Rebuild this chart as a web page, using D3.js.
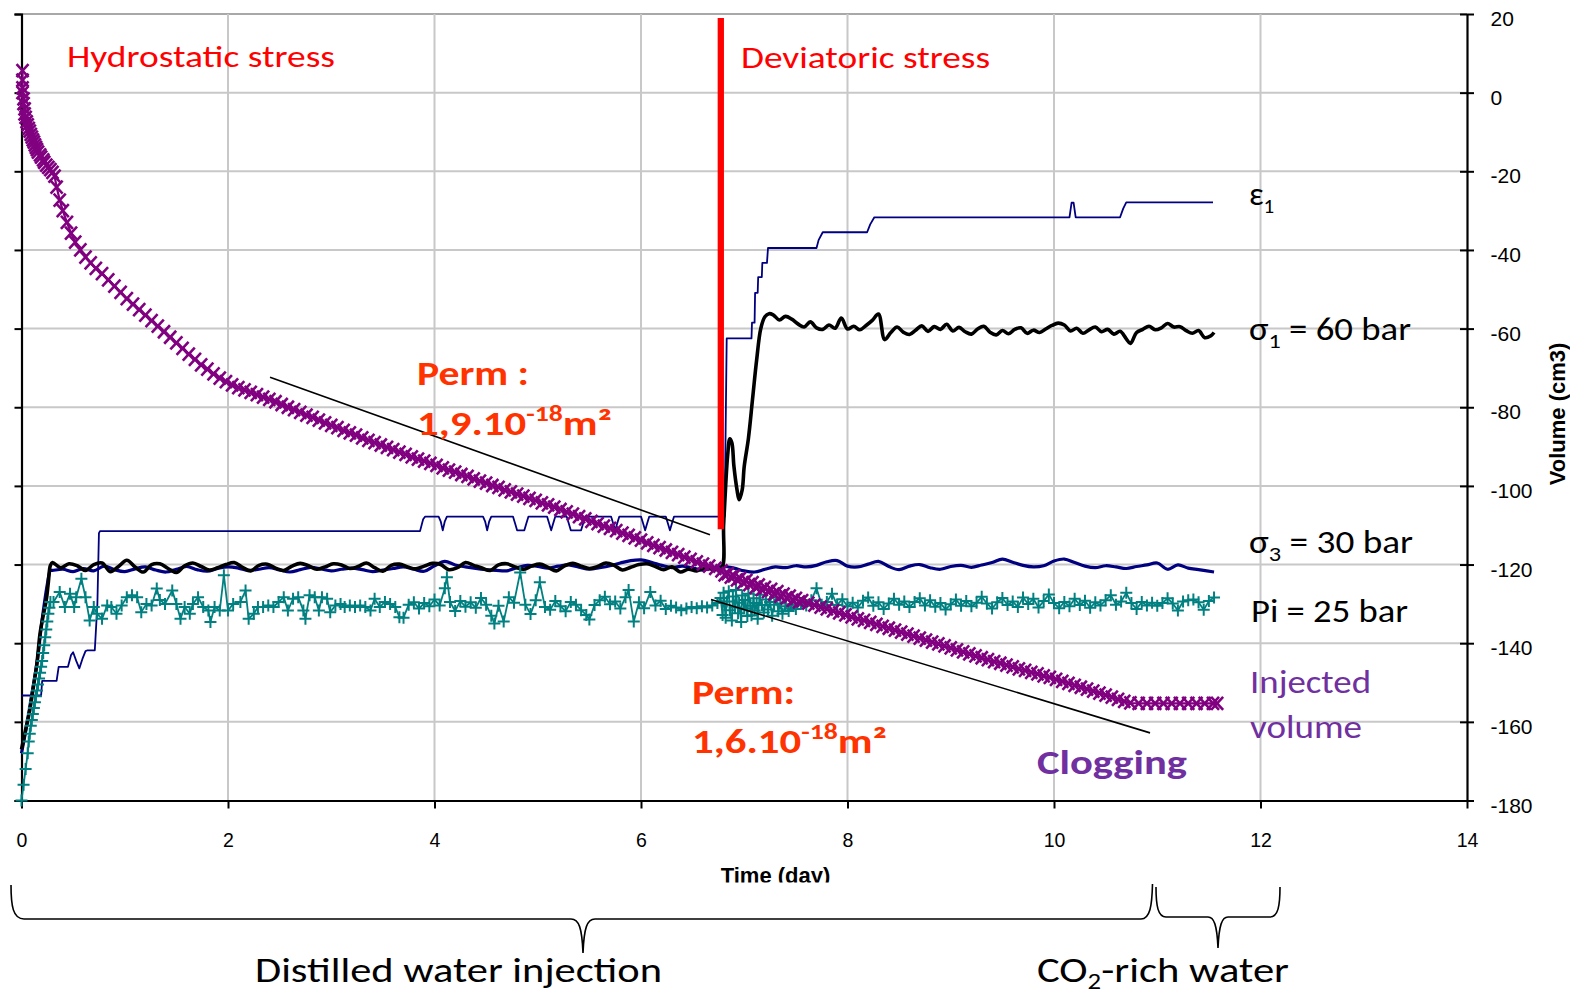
<!DOCTYPE html>
<html>
<head>
<meta charset="utf-8">
<script src="https://cdn.jsdelivr.net/npm/d3@7/dist/d3.min.js"></script>
<style>
  html, body { margin: 0; padding: 0; background: #fff; }
  svg { display: block; }
</style>
</head>
<body>
<svg id="chart" width="1570" height="995"></svg>
<script>
// ---- Data: time (day) and value on the volume scale (cm3) ----
const xTicks = [0, 2, 4, 6, 8, 10, 12, 14];
const yTicks = [20, 0, -20, -40, -60, -80, -100, -120, -140, -160, -180];

// Injected volume
const injectedVolume = [
  [0.01,5.6],[0.01,3.2],[0.01,1.2],[0.01,0],[0.02,-1.6],[0.02,-2.8],[0.03,-4.1],[0.03,-5.4],[0.04,-6.3],[0.05,-7.4],
  [0.06,-8.2],[0.07,-9.1],[0.08,-9.8],[0.09,-10.6],[0.10,-11.3],[0.11,-12],[0.12,-12.6],[0.13,-13.3],[0.14,-13.9],[0.15,-14.5],
  [0.16,-15.1],[0.18,-15.8],[0.19,-16.4],[0.21,-17.1],[0.22,-17.7],[0.24,-18.4],[0.26,-19],[0.28,-19.6],[0.30,-20.3],[0.32,-21.2],
  [0.34,-24],[0.37,-27.3],[0.40,-30],[0.44,-33],[0.48,-35.7],[0.52,-38],[0.57,-40],[0.62,-41.8],[0.67,-43.3],[0.72,-44.7],
  [0.78,-46],[0.84,-47.6],[0.90,-49.2],[0.96,-50.8],[1.02,-52.4],[1.08,-53.8],[1.14,-55.2],[1.20,-56.6],[1.26,-58],[1.32,-59.4],
  [1.38,-60.8],[1.44,-62.2],[1.50,-63.6],[1.56,-65],[1.62,-66.5],[1.68,-67.8],[1.74,-69.2],[1.80,-70.3],[1.86,-71.5],[1.92,-72.6],
  [1.98,-73.5],[2.04,-74.3],[2.10,-75],[2.16,-75.6],[2.22,-76.2],[2.28,-76.8],[2.34,-77.4],[2.40,-78],[2.46,-78.6],[2.52,-79.3],
  [2.58,-80],[2.64,-80.6],[2.70,-81.3],[2.76,-82],[2.82,-82.6],[2.88,-83.3],[2.94,-84],[3.00,-84.6],[3.06,-85.2],[3.12,-85.9],
  [3.18,-86.5],[3.24,-87.1],[3.30,-87.8],[3.36,-88.4],[3.42,-89],[3.48,-89.6],[3.54,-90.2],[3.60,-90.8],[3.66,-91.4],[3.72,-92],
  [3.78,-92.6],[3.84,-93.2],[3.90,-93.7],[3.96,-94.3],[4.02,-94.8],[4.08,-95.4],[4.14,-96],[4.20,-96.5],[4.26,-97.1],[4.32,-97.6],
  [4.38,-98.2],[4.44,-98.8],[4.50,-99.3],[4.56,-99.9],[4.62,-100.4],[4.68,-101],[4.74,-101.5],[4.80,-102.1],[4.86,-102.6],[4.92,-103.2],
  [4.98,-103.7],[5.04,-104.3],[5.10,-104.8],[5.16,-105.4],[5.22,-106],[5.28,-106.6],[5.34,-107.2],[5.40,-107.8],[5.46,-108.4],[5.52,-109],
  [5.58,-109.6],[5.64,-110.2],[5.70,-110.8],[5.76,-111.4],[5.82,-112],[5.88,-112.6],[5.94,-113.2],[6.00,-113.8],[6.06,-114.5],[6.12,-115.1],
  [6.18,-115.7],[6.24,-116.3],[6.30,-116.9],[6.36,-117.5],[6.42,-118.1],[6.48,-118.7],[6.54,-119.3],[6.60,-119.9],[6.66,-120.4],[6.72,-121],
  [6.78,-121.6],[6.81,-122.6],[6.84,-122.3],[6.87,-123.2],[6.90,-122.9],[6.93,-123.9],[6.96,-123.5],[6.99,-124.6],[7.02,-124],[7.05,-125.1],
  [7.08,-124.6],[7.11,-125.8],[7.14,-125.2],[7.17,-126.4],[7.20,-125.8],[7.23,-126.9],[7.26,-126.3],[7.29,-127.5],[7.32,-126.9],[7.35,-128],
  [7.38,-127.5],[7.41,-128.5],[7.44,-128],[7.47,-129.1],[7.50,-128.6],[7.53,-129.5],[7.56,-129.2],
  [7.62,-129.8],[7.68,-130.3],[7.74,-130.8],[7.80,-131.3],[7.86,-131.8],[7.92,-132.3],
  [7.98,-132.8],[8.04,-133.3],[8.10,-133.8],[8.16,-134.2],[8.22,-134.7],[8.28,-135.2],[8.34,-135.7],[8.40,-136.2],[8.46,-136.7],[8.52,-137.2],
  [8.58,-137.7],[8.64,-138.2],[8.70,-138.7],[8.76,-139.2],[8.82,-139.7],[8.88,-140.2],[8.94,-140.7],[9.00,-141.2],[9.06,-141.7],[9.12,-142.2],
  [9.18,-142.7],[9.24,-143.2],[9.30,-143.7],[9.36,-144.2],[9.42,-144.7],[9.48,-145.1],[9.54,-145.6],[9.60,-146],[9.66,-146.5],[9.72,-146.9],
  [9.78,-147.4],[9.84,-147.8],[9.90,-148.3],[9.96,-148.7],[10.02,-149.2],[10.08,-149.7],[10.14,-150.2],[10.20,-150.7],[10.26,-151.2],[10.32,-151.7],
  [10.38,-152.2],[10.44,-152.7],[10.50,-153.2],[10.56,-153.7],[10.62,-154.3],[10.68,-154.8],[10.74,-155.2],[10.82,-155.3],[10.90,-155.3],[10.98,-155.3],
  [11.06,-155.3],[11.14,-155.3],[11.22,-155.3],[11.30,-155.3],[11.38,-155.3],[11.46,-155.3],[11.54,-155.3],[11.58,-155.3]
];

// Axial stress sigma1
const sigma1 = [
  [0,-167],[0.04,-162],[0.08,-157],[0.11,-152],[0.15,-145],[0.18,-137.5],[0.21,-133],[0.24,-129],[0.26,-124.5],[0.28,-120.2],
  [0.30,-119.5],[0.38,-120.8],[0.46,-119.8],[0.54,-120.3],[0.62,-121.5],[0.70,-120],[0.78,-119.6],[0.86,-121.8],[0.94,-120.5],[1.02,-118.9],
  [1.10,-120.6],[1.18,-121.9],[1.26,-120],[1.34,-119.8],[1.42,-121],[1.50,-122],[1.58,-120.3],[1.66,-119.6],[1.74,-120.5],[1.82,-121.4],
  [1.90,-120.8],[1.98,-120],[2.06,-119.5],[2.14,-120.7],[2.22,-121.6],[2.30,-120.2],[2.38,-119.9],[2.46,-120.9],[2.54,-121.5],[2.62,-120.4],
  [2.70,-119.7],[2.78,-120.3],[2.86,-121.2],[2.94,-120.6],[3.02,-119.8],[3.10,-120.1],[3.18,-121],[3.26,-120.5],[3.34,-119.6],[3.42,-120.8],
  [3.50,-121.7],[3.58,-120.2],[3.66,-119.9],[3.74,-120.6],[3.82,-121.1],[3.90,-120.4],[3.98,-119.7],[4.06,-120],[4.14,-121.3],[4.22,-120.8],
  [4.30,-119.5],[4.38,-120.2],[4.46,-120.9],[4.54,-121.5],[4.62,-120.1],[4.70,-119.8],[4.78,-120.6],[4.86,-121.2],[4.94,-120.4],[5.02,-119.9],
  [5.10,-120.7],[5.18,-121.6],[5.26,-120.3],[5.34,-119.7],[5.42,-120.4],[5.50,-121],[5.58,-120.5],[5.66,-119.6],[5.74,-120.2],[5.82,-121.4],
  [5.90,-120.7],[5.98,-120],[6.06,-119.8],[6.14,-120.5],[6.22,-121.3],[6.30,-120.6],[6.38,-121.9],[6.46,-121.2],[6.54,-121.6],[6.62,-120.8],
  [6.70,-121.2],[6.78,-120.9],[6.80,-110],[6.82,-100],[6.84,-92],[6.86,-88],[6.88,-89],[6.90,-95],[6.93,-101],[6.95,-103.5],
  [6.98,-101],[7.00,-95],[7.04,-88],[7.08,-78],[7.12,-68],[7.16,-60],[7.20,-57],[7.24,-56.2],
  [7.28,-56.5],[7.34,-57.8],[7.40,-56.9],[7.46,-57.6],[7.52,-58.8],[7.58,-59.6],[7.64,-58.3],[7.70,-59.8],[7.76,-60.2],[7.82,-59.1],
  [7.88,-59.9],[7.94,-57.3],[8.00,-60.1],[8.06,-59.4],[8.12,-60.3],[8.18,-59.2],[8.24,-57.9],[8.30,-56.3],[8.36,-62.8],[8.42,-61],
  [8.48,-59.6],[8.54,-60.9],[8.60,-61.5],[8.66,-60.4],[8.72,-59.3],[8.78,-60.7],[8.84,-59.5],[8.90,-60.2],[8.96,-58.9],[9.02,-60.6],
  [9.08,-59.7],[9.14,-60.8],[9.20,-61.4],[9.26,-60.1],[9.32,-59.4],[9.38,-60.9],[9.44,-61.6],[9.50,-60.5],[9.56,-61.3],[9.62,-60.2],
  [9.68,-59.8],[9.74,-61.2],[9.80,-60.4],[9.86,-61],[9.92,-60.1],[9.98,-59.2],[10.04,-58.6],[10.10,-59.1],[10.16,-60.6],[10.22,-59.9],
  [10.28,-61.2],[10.34,-60.3],[10.40,-59.6],[10.46,-60.8],[10.52,-60.2],[10.58,-61.4],[10.64,-60.7],[10.70,-62.6],[10.74,-63.8],[10.80,-61],
  [10.86,-60.2],[10.92,-59.4],[10.98,-60.3],[11.04,-59.8],[11.10,-58.7],[11.16,-59.6],[11.22,-59.5],[11.28,-60.5],[11.34,-61.2],[11.40,-60.5],
  [11.46,-62.3],[11.52,-61.8],[11.55,-61]
];

// Confining stress sigma3
const sigma3 = [
  [0,-168],[0.05,-161],[0.10,-153],[0.15,-145],[0.20,-134],[0.25,-125],[0.28,-121.5],
  [0.3,-121.5],[0.4,-121.2],[0.5,-121.8],[0.6,-121],[0.7,-121.6],[0.8,-120.4],[0.9,-121.3],[1.0,-121.8],[1.1,-121.1],[1.2,-120.6],
  [1.3,-121.4],[1.4,-121.9],[1.5,-121.2],[1.6,-120.5],[1.7,-121.3],[1.8,-121.7],[1.9,-121],[2.0,-120.6],[2.1,-120.9],[2.2,-121.5],
  [2.3,-121.2],[2.4,-120.8],[2.5,-121.4],[2.6,-121.9],[2.7,-121.3],[2.8,-120.7],[2.9,-121.1],[3.0,-121.6],[3.1,-121.2],[3.2,-120.9],
  [3.3,-121.3],[3.4,-121.8],[3.5,-121.4],[3.6,-121],[3.7,-120.6],[3.8,-121.2],[3.9,-121.7],[4.0,-120.3],[4.1,-119.2],[4.2,-120.1],
  [4.3,-120.6],[4.4,-121],[4.5,-121.3],[4.6,-121.5],[4.7,-121.6],[4.8,-120.8],[4.9,-120.2],[5.0,-120.5],[5.1,-120.9],[5.2,-120.4],
  [5.3,-120.1],[5.4,-120.7],[5.5,-121.2],[5.6,-120.8],[5.7,-120.3],[5.8,-119.6],[5.9,-119],[6.0,-118.8],[6.1,-119.4],[6.2,-120.2],
  [6.3,-120.8],[6.4,-120.4],[6.5,-120.9],[6.6,-121.4],[6.7,-120.8],[6.8,-120.5],[6.9,-120.9],[7.0,-121.6],[7.1,-121.9],[7.2,-121.2],
  [7.3,-120.6],[7.4,-120.8],[7.5,-120.3],[7.6,-120.6],[7.7,-120.2],[7.8,-119.3],[7.9,-119],[8.0,-120.4],[8.1,-120.6],[8.2,-119.9],
  [8.3,-119.2],[8.4,-120.5],[8.5,-121.3],[8.6,-120.4],[8.7,-120],[8.8,-120.8],[8.9,-121.2],[9.0,-120.5],[9.1,-120.2],[9.2,-120.7],
  [9.3,-120.1],[9.4,-119.5],[9.5,-118.6],[9.6,-119.4],[9.7,-120.2],[9.8,-120.6],[9.9,-120.3],[10.0,-119.1],[10.1,-118.6],[10.2,-119.5],
  [10.3,-120.4],[10.4,-120.8],[10.5,-120.3],[10.6,-120.6],[10.7,-121],[10.8,-120.5],[10.9,-120.1],[11.0,-119.6],[11.1,-121.2],[11.2,-120.1],
  [11.3,-120.9],[11.4,-121.3],[11.55,-121.9]
];

// Axial strain epsilon1 (stepped signal)
const epsilon1 = [
  [0.00,-153.3],[0.19,-153.3],[0.20,-149.6],[0.34,-149.6],[0.36,-146],[0.45,-146],[0.48,-143],[0.50,-142.3],[0.53,-144.5],[0.56,-146.4],
  [0.59,-144],[0.62,-142],[0.64,-141.8],[0.71,-141.8],[0.735,-130],[0.75,-112],[0.76,-111.5],
  [3.86,-111.5],[3.89,-108.5],[3.91,-107.8],[4.04,-107.8],[4.06,-109],[4.08,-111.3],[4.10,-109],[4.12,-107.8],
  [4.47,-107.8],[4.49,-109],[4.51,-111.3],[4.53,-109],[4.55,-107.8],
  [4.76,-107.8],[4.78,-109.5],[4.80,-111.3],[4.87,-111.3],[4.89,-109.5],[4.91,-107.8],
  [5.09,-107.8],[5.11,-109.5],[5.13,-111.3],[5.15,-109.5],[5.17,-107.8],
  [5.28,-107.8],[5.30,-109.5],[5.32,-111.3],[5.42,-111.3],[5.44,-109.5],[5.46,-107.8],
  [5.71,-107.8],[5.73,-109.5],[5.75,-111.3],[5.77,-109.5],[5.79,-107.8],
  [6.00,-107.8],[6.02,-109.5],[6.04,-111.3],[6.06,-109.5],[6.08,-107.8],
  [6.24,-107.8],[6.26,-109.5],[6.28,-111.3],[6.30,-109.5],[6.32,-107.8],
  [6.81,-107.8],[6.82,-85],[6.83,-62.5],[7.07,-62.5],[7.075,-58.5],[7.10,-58.5],[7.105,-50.9],[7.13,-50.9],[7.135,-46.9],[7.17,-46.9],
  [7.175,-43.3],[7.22,-43.3],[7.23,-39.5],[7.70,-39.5],[7.72,-37.5],[7.76,-35.5],[8.19,-35.5],[8.22,-33.5],[8.26,-31.7],[10.15,-31.7],
  [10.17,-28],[10.19,-28],[10.21,-31.7],[10.64,-31.7],[10.67,-29.5],[10.70,-27.9],[11.54,-27.9]
];

// Injection pressure Pi
const pressurePi = [
  [0.00,-180],[0.02,-176],[0.04,-172],[0.06,-168],[0.07,-165],[0.08,-163],[0.09,-161],[0.10,-159.5],[0.11,-158],[0.12,-156.5],
  [0.13,-155],[0.14,-153.5],[0.15,-152],[0.16,-150.5],[0.17,-149],[0.18,-147.5],[0.19,-146],[0.20,-144.5],[0.21,-142.5],[0.22,-140.5],
  [0.23,-138.5],[0.24,-136.5],[0.25,-134.5],[0.26,-132.5],[0.27,-131],[0.28,-129.5],
  [0.31,-129.5],[0.37,-127],[0.42,-130.8],[0.47,-127.4],[0.51,-130.8],[0.53,-128.3],[0.58,-123.6],[0.62,-128.3],[0.66,-134.2],[0.70,-130.8],
  [0.73,-132.5],[0.78,-133.8],[0.83,-130.4],[0.87,-130.8],[0.92,-132.5],[0.97,-130.4],[1.02,-128.3],[1.07,-127.8],[1.12,-128.3],[1.16,-132.1],
  [1.21,-130],[1.26,-130.4],[1.31,-126.1],[1.34,-129],[1.39,-130],[1.46,-126.6],[1.50,-130],[1.54,-133.8],[1.58,-130.8],[1.63,-132.5],
  [1.66,-130],[1.71,-128.3],[1.76,-130.8],[1.81,-131.7],[1.83,-134.6],[1.87,-130.8],[1.92,-131.7],[1.96,-122.7],[2.00,-131.7],[2.05,-130],
  [2.12,-129.5],[2.17,-126.6],[2.20,-133.8],[2.25,-132.5],[2.29,-130.8],[2.34,-130.8],[2.39,-130.4],[2.44,-130.8],[2.49,-129.5],[2.54,-128.3],
  [2.58,-131.7],[2.63,-128.7],[2.68,-128.3],[2.73,-131.7],[2.75,-133.8],[2.79,-127.8],[2.84,-128.3],[2.88,-131.7],[2.91,-128.3],[2.96,-128.7],
  [2.99,-132.1],[3.04,-130.4],[3.09,-130],[3.13,-130.8],[3.18,-130.4],[3.23,-130.8],[3.28,-130.4],[3.33,-130.8],[3.38,-131.7],[3.42,-128.7],
  [3.47,-130.8],[3.52,-129.5],[3.57,-130],[3.62,-130.8],[3.66,-133.4],
  [3.70,-133.5],[3.75,-130.2],[3.80,-129.6],[3.85,-131.2],[3.90,-129.8],[3.95,-130.6],[4.00,-128.9],[4.05,-130.4],[4.10,-126],[4.12,-123.2],
  [4.15,-129.5],[4.20,-131.8],[4.25,-129.3],[4.30,-130.7],[4.35,-129.6],[4.40,-131],[4.45,-128.5],[4.50,-130.2],[4.55,-133],[4.58,-135],
  [4.62,-130.5],[4.67,-134.5],[4.72,-128.3],[4.77,-129.7],[4.83,-122],[4.88,-130.2],[4.93,-132.6],[4.98,-129.1],[5.02,-124.5],[5.07,-130.8],
  [5.12,-131.5],[5.17,-129.3],[5.22,-130.6],[5.27,-131.9],[5.32,-129.5],[5.37,-130.2],[5.42,-131.6],[5.47,-132.8],[5.50,-134],[5.55,-130.3],
  [5.60,-129.1],[5.65,-128.2],[5.70,-130.1],[5.75,-129.4],[5.80,-131.2],[5.85,-128.3],[5.88,-126.5],[5.93,-134.5],[5.98,-129.6],[6.03,-131.1],
  [6.09,-127],[6.14,-130.4],[6.19,-129.2],[6.24,-131.3],[6.29,-130.5],[6.34,-130.9],[6.39,-131.6],[6.44,-131.2],[6.49,-130.8],[6.54,-131.1],
  [6.59,-130.6],[6.64,-130.9],[6.69,-130.4],[6.74,-129.8],
  [6.77,-128.5],[6.79,-132.8],[6.80,-127.2],[6.82,-133.5],[6.83,-129.4],[6.85,-126.8],[6.86,-131.6],[6.88,-134.2],[6.89,-128.1],[6.91,-130.9],
  [6.92,-126.5],[6.94,-132.4],[6.95,-129.7],[6.97,-134.6],[6.98,-127.9],[7.00,-131.2],[7.01,-129],[7.03,-133.1],[7.04,-127.4],[7.06,-130.5],
  [7.07,-132.9],[7.09,-128.6],[7.10,-131.7],[7.12,-129.8],[7.13,-133.8],[7.15,-127.7],[7.17,-130.3],[7.19,-132.2],[7.21,-128.9],[7.23,-131.4],
  [7.25,-129.5],[7.27,-133],[7.29,-130.2],[7.31,-128.4],[7.33,-131.9],[7.35,-129.9],[7.37,-132.5],[7.40,-130.6],[7.43,-131.8],[7.46,-130.1],
  [7.50,-131.3],
  [7.55,-129.8],[7.60,-130.4],[7.65,-129.1],[7.70,-126],[7.75,-130.2],[7.80,-129.5],[7.85,-127.4],[7.90,-130.3],[7.95,-128.8],[8.00,-130.6],
  [8.05,-129.7],[8.10,-130.9],[8.15,-129.2],[8.20,-128.4],[8.25,-130.5],[8.30,-129.6],[8.35,-131.3],[8.40,-129.9],[8.45,-128.7],[8.50,-130.2],
  [8.55,-129.4],[8.60,-130.8],[8.65,-129.5],[8.70,-128.6],[8.75,-130.4],[8.80,-129.1],[8.85,-130.7],[8.90,-129.8],[8.95,-131.4],[9.00,-130.1],
  [9.05,-128.9],[9.10,-130.5],[9.15,-129.3],[9.20,-130.6],[9.25,-129.7],[9.30,-128.2],[9.35,-129.9],[9.40,-131.2],[9.45,-129.6],[9.50,-128.5],
  [9.55,-130.3],[9.60,-129.4],[9.65,-130.8],[9.70,-128.4],[9.75,-130],[9.80,-128.7],[9.85,-130.9],[9.90,-129.3],[9.95,-127.6],[10.00,-129.8],
  [10.05,-131.1],[10.10,-129.5],[10.15,-130.6],[10.20,-128.7],[10.25,-130.3],[10.30,-129.2],[10.35,-131],[10.40,-129.6],[10.45,-130.4],[10.50,-129.1],
  [10.55,-127.8],[10.60,-130.2],[10.65,-129.4],[10.70,-127.2],[10.75,-129.8],[10.80,-131.3],[10.85,-129.5],[10.90,-130.4],[10.95,-129.7],[11.00,-130.5],
  [11.05,-129.8],[11.10,-128.6],[11.15,-129.9],[11.20,-131.7],[11.25,-129.4],[11.30,-129.1],[11.35,-128.9],[11.40,-129.6],[11.45,-131.5],[11.50,-129.3],
  [11.55,-128.4]
];

// Start of the deviatoric phase
const stressSwitch = [[6.773, 19], [6.773, -111]];
// Permeability slope guides
const slopeHydro = [[2.407, -72.4], [6.668, -112.4]];
const slopeDeviatoric = [[6.678, -128.9], [10.93, -162.8]];

// ---- Layout ----
const svg = d3.select("#chart");
svg.append("rect").attr("width", 1570).attr("height", 995).attr("fill", "#fff");

const x = d3.scaleLinear().domain([0, 14]).range([21.5, 1467]);
const y = d3.scaleLinear().domain([-180, 20]).range([800.5, 14]);
const arial = "'Liberation Sans', Arial, sans-serif";

// Gridlines
const grid = svg.append("g");
grid.selectAll("line.h").data(yTicks.filter(v => v > -180)).join("line")
  .attr("x1", x(0)).attr("x2", x(14)).attr("y1", d => y(d)).attr("y2", d => y(d))
  .attr("stroke", d => d === 20 ? "#a8a8a8" : "#c8c8c8").attr("stroke-width", 2);
grid.selectAll("line.v").data(xTicks.filter(v => v > 0 && v < 14)).join("line")
  .attr("x1", d => x(d)).attr("x2", d => x(d)).attr("y1", y(20)).attr("y2", y(-180))
  .attr("stroke", "#c8c8c8").attr("stroke-width", 2);

// Axes
const axisStyle = g => {
  g.selectAll(".domain").attr("stroke", "#000").attr("stroke-width", 2.2);
  g.selectAll(".tick line").attr("stroke", "#000").attr("stroke-width", 2);
};
svg.append("g").attr("transform", `translate(${x(0)},0)`)
  .call(d3.axisLeft(y).tickValues(yTicks).tickSize(7).tickFormat(""))
  .call(axisStyle);

const rightAxis = svg.append("g").attr("transform", `translate(${x(14)},0)`)
  .call(d3.axisRight(y).tickValues(yTicks).tickSizeInner(7).tickSizeOuter(0).tickPadding(16.5)
    .tickFormat(d => String(d)))
  .call(axisStyle);
rightAxis.selectAll(".tick").append("line").attr("x1", -7).attr("x2", 0).attr("stroke", "#000").attr("stroke-width", 2);
rightAxis.selectAll(".tick text")
  .attr("font-size", 21).attr("fill", "#000")
  .attr("dy", null).attr("y", 11.5).attr("font-family", arial);

const bottomAxis = svg.append("g").attr("transform", `translate(0,${y(-180)})`)
  .call(d3.axisBottom(x).tickValues(xTicks).tickSizeInner(8).tickSizeOuter(0).tickPadding(24.4)
    .tickFormat(d => String(d)))
  .call(axisStyle);
bottomAxis.selectAll(".tick text")
  .attr("font-size", 19.5).attr("fill", "#000").attr("font-family", arial);

// Axis titles
svg.append("clipPath").attr("id", "titleClip").append("rect")
  .attr("x", 600).attr("y", 850).attr("width", 360).attr("height", 32.5);
svg.append("text").attr("x", 775.5).attr("y", 883).attr("text-anchor", "middle")
  .attr("clip-path", "url(#titleClip)")
  .attr("font-family", arial).attr("font-weight", "bold").attr("font-size", 22)
  .text("Time (day)");
svg.append("text").attr("transform", "translate(1565,414) rotate(-90)").attr("text-anchor", "middle")
  .attr("font-family", arial).attr("font-weight", "bold").attr("font-size", 22)
  .text("Volume (cm3)");

// Series
const line = d3.line().x(d => x(d[0])).y(d => y(d[1]));
const smooth = d3.line().x(d => x(d[0])).y(d => y(d[1])).curve(d3.curveCatmullRom.alpha(0.5));
const plot = svg.append("g");

plot.append("path").datum(epsilon1).attr("d", line)
  .attr("fill", "none").attr("stroke", "#000080").attr("stroke-width", 1.8).attr("stroke-linejoin", "round");
plot.append("path").datum(sigma3).attr("d", smooth)
  .attr("fill", "none").attr("stroke", "#000080").attr("stroke-width", 3.2).attr("stroke-linejoin", "round");
plot.append("path").datum(sigma1).attr("d", smooth)
  .attr("fill", "none").attr("stroke", "#000").attr("stroke-width", 3.6).attr("stroke-linejoin", "round");

plot.append("path").datum(pressurePi).attr("d", line)
  .attr("fill", "none").attr("stroke", "#008080").attr("stroke-width", 1.8).attr("stroke-linejoin", "round");
plot.append("g").selectAll("path").data(pressurePi).join("path")
  .attr("transform", d => `translate(${x(d[0])},${y(d[1])})`)
  .attr("d", "M-6,0H6M0,-6V6").attr("stroke", "#008080").attr("stroke-width", 2).attr("fill", "none");

plot.append("path").datum(injectedVolume).attr("d", line)
  .attr("fill", "none").attr("stroke", "#800080").attr("stroke-width", 2.2);
plot.append("g").selectAll("path").data(injectedVolume).join("path")
  .attr("transform", d => `translate(${x(d[0])},${y(d[1])})`)
  .attr("d", "M-6,-6.5L6,6.5M-6,6.5L6,-6.5").attr("stroke", "#800080").attr("stroke-width", 2.6).attr("fill", "none");

// Phase switch and slope guides
plot.append("path").datum(stressSwitch).attr("d", line)
  .attr("stroke", "#ff0000").attr("stroke-width", 6.3).attr("fill", "none");
plot.append("path").datum(slopeHydro).attr("d", line)
  .attr("stroke", "#000").attr("stroke-width", 1.6).attr("fill", "none");
plot.append("path").datum(slopeDeviatoric).attr("d", line)
  .attr("stroke", "#000").attr("stroke-width", 1.6).attr("fill", "none");

// Annotations
const font = "Carlito, Lato, 'Open Sans', sans-serif";
function label(xp, yp, txt, opts = {}) {
  const t = svg.append("text").attr("x", xp).attr("y", yp)
    .attr("font-family", font).attr("font-size", opts.size || 32)
    .attr("font-weight", opts.bold ? "bold" : "normal")
    .attr("fill", opts.color || "#000");
  if (opts.len) t.attr("textLength", opts.len).attr("lengthAdjust", "spacingAndGlyphs");
  return t.text(txt);
}
label(67, 67, "Hydrostatic stress", { size: 30.5, color: "#ff0000", len: 268 });
label(741, 68, "Deviatoric stress", { size: 30.5, color: "#ff0000", len: 249 });

const eps = label(1249, 205, "ε", { size: 32 });
eps.append("tspan").attr("font-size", 21).attr("dy", 8).text("1");

const s1 = label(1249, 340, "σ", { size: 32, len: 162 });
s1.append("tspan").attr("font-size", 21).attr("dy", 8).text("1");
s1.append("tspan").attr("dy", -8).text(" = 60 bar");

const s3 = label(1249, 553, "σ", { size: 32, len: 164 });
s3.append("tspan").attr("font-size", 21).attr("dy", 8).text("3");
s3.append("tspan").attr("dy", -8).text(" = 30 bar");

label(1251, 621.5, "Pi = 25 bar", { size: 32, len: 157 });
label(1250, 692.5, "Injected", { size: 32, color: "#7030a0", len: 121 });
label(1250, 737.5, "volume", { size: 32, color: "#7030a0", len: 112 });
label(1037, 774, "Clogging", { size: 34, bold: true, color: "#7030a0", len: 150 });

const permColor = "#ff3300";
label(417, 385, "Perm :", { size: 34, bold: true, color: permColor, len: 112 });
const p1 = label(417, 435, "1,9.10", { size: 34, bold: true, color: permColor, len: 195 });
p1.append("tspan").attr("font-size", 22).attr("dy", -14).text("-18");
p1.append("tspan").attr("dy", 14).text("m²");

label(692, 704, "Perm:", { size: 34, bold: true, color: permColor, len: 103 });
const p2 = label(692, 753, "1,6.10", { size: 34, bold: true, color: permColor, len: 195 });
p2.append("tspan").attr("font-size", 22).attr("dy", -14).text("-18");
p2.append("tspan").attr("dy", 14).text("m²");

// Braces below the time axis
const brace = svg.append("g").attr("fill", "none").attr("stroke", "#000").attr("stroke-width", 1.6);
brace.append("path").attr("d",
  "M11,885 C11,906 13,919 24,919 L571,919 C579,919 582,928 583,953 C584,928 587,919 595,919 L1141,919 C1150,919 1152,906 1152.5,884");
brace.append("path").attr("d",
  "M1156,887 C1156,906 1158,917 1166,917 L1208,917 C1214,917 1217,925 1218,948 C1219,925 1222,917 1228,917 L1270,917 C1278,917 1280,906 1280,887");

label(255, 982, "Distilled water injection", { size: 35, len: 407 });
const co2 = label(1037, 982, "CO", { size: 35, len: 252 });
co2.append("tspan").attr("font-size", 22).attr("dy", 7).text("2");
co2.append("tspan").attr("dy", -7).text("-rich water");
</script>
</body>
</html>
